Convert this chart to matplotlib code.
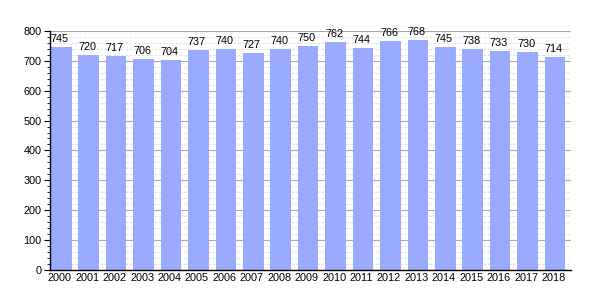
import numpy as np
import matplotlib.pyplot as plt
from matplotlib.ticker import MultipleLocator

plt.rcParams['font.family'] = ['Liberation Sans', 'DejaVu Sans']

years = [str(y) for y in range(2000, 2019)]
values = [745, 720, 717, 706, 704, 737, 740, 727, 740, 750,
          762, 744, 766, 768, 745, 738, 733, 730, 714]

fig = plt.figure(figsize=(6, 3), dpi=100)
ax = fig.add_axes([0.0833, 0.1, 0.8687, 0.797])

x = np.arange(len(years))
bars = ax.bar(x + 0.41, values, width=0.75, color='#99aaff', zorder=2)
for b, v in zip(bars, values):
    ax.text(b.get_x() + b.get_width() / 2 - 0.05, v + 10, str(v),
            ha='center', va='bottom', fontsize=7.8, zorder=3)

ax.set_xlim(0, len(years))
ax.set_ylim(0, 800)
ax.set_xticks(x + 0.36)
ax.set_xticklabels(years)
ax.yaxis.set_major_locator(MultipleLocator(100))
ax.yaxis.set_minor_locator(MultipleLocator(20))
ax.grid(axis='y', which='major', color='#aaaaaa', linewidth=0.8, zorder=0)
ax.grid(axis='y', which='minor', color='#dddddd', linewidth=0.6,
        linestyle=(0, (3, 2)), zorder=0)
ax.tick_params(axis='both', labelsize=7.8, length=4, width=0.8, pad=2)
ax.tick_params(axis='y', which='minor', length=2.5, width=0.6)
ax.tick_params(axis='x', length=0)
for s in ['top', 'right']:
    ax.spines[s].set_visible(False)
ax.spines['left'].set_linewidth(1)
ax.spines['bottom'].set_linewidth(1)

fig.savefig('out.png', dpi=100)
